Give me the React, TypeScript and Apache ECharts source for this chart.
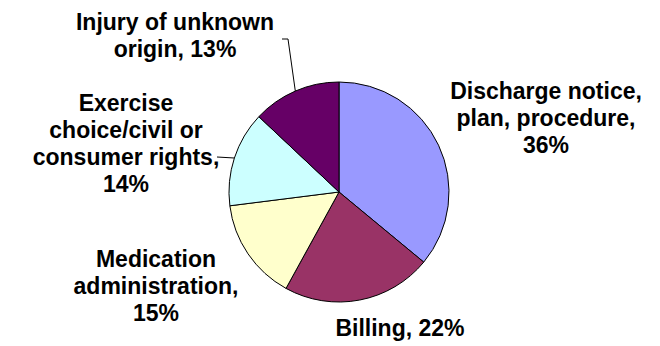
import React, { useEffect, useRef } from "react";
import * as echarts from "echarts";

// Data
const CATEGORIES = [
  "Discharge notice,\nplan, procedure",
  "Billing",
  "Medication\nadministration",
  "Exercise\nchoice/civil or\nconsumer rights",
  "Injury of unknown\norigin",
];
const VALUES = [36, 22, 15, 14, 13];
const PCT_ON_NEW_LINE = [true, false, true, true, false];
const COLORS = ["#9999FF", "#993366", "#FFFFCC", "#CCFFFF", "#660066"];
const SHOW_LEADER = [false, false, false, true, true];

// Layout (label centres and leader line bends)
const LABEL_POS: [number, number][] = [
  [546, 118],
  [400, 328],
  [156, 286],
  [126, 143.5],
  [175, 35.5],
];
const LEADER_BENDS: ([number, number][] | null)[] = [
  null,
  null,
  null,
  [[217, 157], [217, 157]],
  [[288, 39], [282, 39]],
];

export default function App() {
  const ref = useRef<HTMLDivElement>(null);
  useEffect(() => {
    if (!ref.current) return;
    const chart = echarts.init(ref.current, undefined, { renderer: "svg" });
    const data = CATEGORIES.map((name, i) => ({
      name,
      value: VALUES[i],
      itemStyle: { color: COLORS[i] },
      labelLine: { show: SHOW_LEADER[i] },
    }));
    chart.setOption({
      animation: false,
      backgroundColor: "#ffffff",
      series: [
        {
          type: "pie",
          center: [339, 192],
          radius: 110,
          startAngle: 90,
          clockwise: true,
          avoidLabelOverlap: false,
          silent: true,
          data,
          itemStyle: { borderColor: "#000000", borderWidth: 1 },
          label: {
            show: true,
            position: "outside",
            color: "#000000",
            fontFamily: 'Arial, "Liberation Sans", sans-serif',
            fontWeight: "bold",
            fontSize: 23,
            lineHeight: 27,
            align: "center",
            formatter: (p: any) =>
              `${p.name},${PCT_ON_NEW_LINE[p.dataIndex] ? "\n" : " "}${p.value}%`,
          },
          labelLine: {
            show: false,
            lineStyle: { color: "#000000", width: 1 },
          },
          labelLayout: (params: any) => {
            const i = params.dataIndex;
            const res: any = {
              x: LABEL_POS[i][0],
              y: LABEL_POS[i][1],
              align: "center",
              verticalAlign: "middle",
            };
            const bends = LEADER_BENDS[i];
            if (bends && params.labelLinePoints) {
              const anchor = params.labelLinePoints[0];
              res.labelLinePoints = [anchor, bends[0], bends[1]];
            }
            return res;
          },
        },
      ],
    });
    return () => chart.dispose();
  }, []);
  return (
    <div
      ref={ref}
      style={{ position: "fixed", left: 0, top: 0, width: 660, height: 346 }}
    />
  );
}
